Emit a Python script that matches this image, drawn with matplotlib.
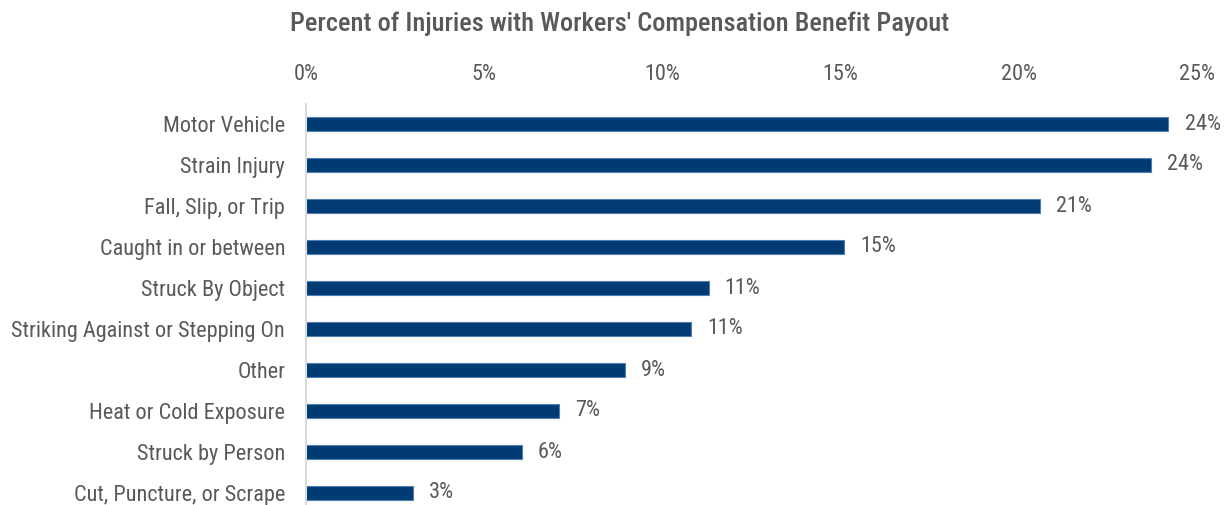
import matplotlib
matplotlib.use("Agg")
import matplotlib.pyplot as plt

plt.rcParams['font.family'] = ['Roboto Condensed', 'DejaVu Sans']

categories = ["Motor Vehicle", "Strain Injury", "Fall, Slip, or Trip", "Caught in or between",
              "Struck By Object", "Striking Against or Stepping On", "Other",
              "Heat or Cold Exposure", "Struck by Person", "Cut, Puncture, or Scrape"]
values = [24.2, 23.7, 20.6, 15.1, 11.3, 10.8, 8.95, 7.1, 6.05, 3.0]
labels = ["24%", "24%", "21%", "15%", "11%", "11%", "9%", "7%", "6%", "3%"]
ticks = [0, 5, 10, 15, 20, 25]

grey = "#595959"
bar_color = "#003c73"

fig = plt.figure(figsize=(12.31, 5.05), dpi=100)
ax = fig.add_axes([306 / 1231, 1 - 513.5 / 505, (1197 - 306) / 1231, 410 / 505])

ypos = list(range(len(categories)))
ax.barh(ypos, values, height=0.35, color=bar_color, edgecolor="#4f7fae", linewidth=0.8)

for y, v, lab in zip(ypos, values, labels):
    ax.text(v + 0.45, y, lab, va="center", ha="left", fontsize=16, color=grey)

ax.set_xlim(0, 25)
ax.set_ylim(len(categories) - 0.5, -0.5)
ax.set_yticks(ypos)
ax.set_yticklabels(categories, fontsize=16, color=grey)
ax.set_xticks(ticks)
ax.set_xticklabels([f"{t}%" for t in ticks], fontsize=16, color=grey)
ax.xaxis.tick_top()
ax.tick_params(axis="both", length=0)
ax.tick_params(axis="x", pad=13)
ax.tick_params(axis="y", pad=15)

for s in ["top", "right", "bottom"]:
    ax.spines[s].set_visible(False)
ax.spines["left"].set_color("#d9d9d9")
ax.spines["left"].set_linewidth(1.5)

fig.text(620 / 1231, 1 - 24 / 505, "Percent of Injuries with Workers' Compensation Benefit Payout",
         ha="center", va="center", fontsize=19, color=grey, fontweight=500)

fig.savefig("out.png", dpi=100)
